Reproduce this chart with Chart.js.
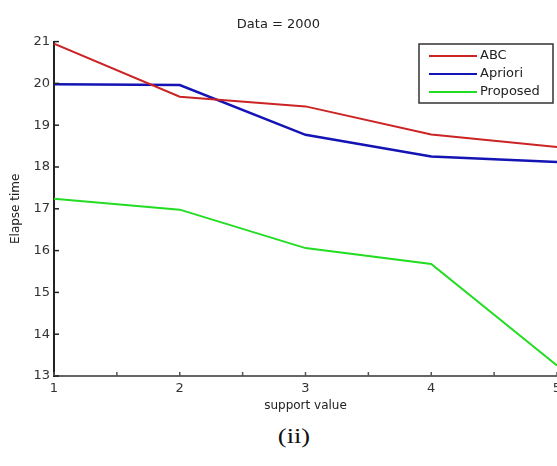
<!DOCTYPE html>
<html>
<head>
<meta charset="utf-8">
<script src="https://cdn.jsdelivr.net/npm/chart.js@4"></script>
<style>
  html, body { margin: 0; padding: 0; background: #fff; overflow: hidden; width: 557px; height: 466px; }
  #wrap { position: absolute; left: 0; top: 0; width: 575px; height: 420px; }
  #caption {
    position: absolute; left: 254px; top: 423px; width: 80px; text-align: center;
    font-family: 'Liberation Serif', 'DejaVu Serif', serif; font-size: 22px; color: #111;
    transform: scaleX(1.2);
  }
</style>
</head>
<body>
<div id="wrap"><canvas id="chart" width="575" height="420"></canvas></div>
<div id="caption">(ii)</div>
<script>
const supportValues = [1, 2, 3, 4, 5];
const abcTimes = [20.95, 19.68, 19.45, 18.78, 18.48];
const aprioriTimes = [19.98, 19.96, 18.77, 18.25, 18.12];
const proposedTimes = [17.24, 16.98, 16.06, 15.68, 13.25];
const yTicks = [13, 14, 15, 16, 17, 18, 19, 20, 21];
const xTicks = [1, 1.5, 2, 2.5, 3, 3.5, 4, 4.5, 5];

const FONT = "'DejaVu Sans', 'Liberation Sans', sans-serif";

const toPoints = vals => vals.map((v, i) => ({ x: supportValues[i], y: v }));

// MATLAB style inward ticks + boxed legend
const matlabBits = {
  id: 'matlabBits',
  afterDraw(chart) {
    const { ctx, scales: { x, y } } = chart;
    const area = chart.chartArea;
    ctx.save();
    ctx.strokeStyle = '#222';
    ctx.lineWidth = 1.5;
    for (const t of yTicks) {
      const py = y.getPixelForValue(t);
      ctx.beginPath();
      ctx.moveTo(area.left, py);
      ctx.lineTo(area.left + 5, py);
      ctx.stroke();
    }
    ctx.strokeStyle = '#555';
    for (const t of xTicks) {
      const px = x.getPixelForValue(t);
      ctx.beginPath();
      ctx.moveTo(px, area.bottom);
      ctx.lineTo(px, area.bottom - 4);
      ctx.stroke();
    }

    // legend
    const lx = 419, ly = 44, lw = 134, lh = 59;
    ctx.fillStyle = '#fff';
    ctx.fillRect(lx, ly, lw, lh);
    ctx.strokeStyle = '#333';
    ctx.lineWidth = 1.5;
    ctx.strokeRect(lx, ly, lw, lh);
    ctx.font = '13px ' + FONT;
    ctx.textBaseline = 'middle';
    ctx.textAlign = 'left';
    chart.data.datasets.forEach((ds, i) => {
      const ry = ly + 12 + i * 18;
      ctx.strokeStyle = ds.borderColor;
      ctx.lineWidth = 2;
      ctx.beginPath();
      ctx.moveTo(lx + 10, ry);
      ctx.lineTo(lx + 58, ry);
      ctx.stroke();
      ctx.fillStyle = '#222';
      ctx.fillText(ds.label, lx + 61, ry);
    });
    ctx.restore();
  }
};

new Chart(document.getElementById('chart'), {
  type: 'line',
  data: {
    datasets: [
      { label: 'ABC', data: toPoints(abcTimes), borderColor: '#cc2424', borderWidth: 2 },
      { label: 'Apriori', data: toPoints(aprioriTimes), borderColor: '#1414b4', borderWidth: 2.5 },
      { label: 'Proposed', data: toPoints(proposedTimes), borderColor: '#22dd22', borderWidth: 2 },
    ],
  },
  options: {
    responsive: false,
    animation: false,
    elements: { point: { radius: 0 }, line: { tension: 0 } },
    layout: { padding: { left: 0, right: 18, top: 0, bottom: 0 } },
    plugins: {
      legend: { display: false },
      tooltip: { enabled: false },
      title: {
        display: true,
        text: 'Data = 2000',
        color: '#222',
        font: { family: FONT, size: 13, weight: 'normal' },
        padding: { top: 17, bottom: 9 },
      },
    },
    scales: {
      x: {
        type: 'linear',
        min: 1,
        max: 5,
        afterFit: s => { s.height = 44; },
        afterBuildTicks: s => { s.ticks = supportValues.map(v => ({ value: v })); },
        grid: { display: false, drawTicks: false },
        border: { display: true, color: '#666', width: 2 },
        ticks: { color: '#333', font: { family: FONT, size: 13 }, padding: 5, maxRotation: 0 },
        title: {
          display: true, text: 'support value', color: '#222',
          font: { family: FONT, size: 12 }, padding: { top: 0, bottom: 7 },
        },
      },
      y: {
        min: 13,
        max: 21,
        afterFit: s => { s.width = 54; },
        afterBuildTicks: s => { s.ticks = yTicks.map(v => ({ value: v })); },
        grid: { display: false, drawTicks: false },
        border: { display: true, color: '#222', width: 2 },
        ticks: { color: '#333', font: { family: FONT, size: 13 }, padding: 4 },
        title: {
          display: true, text: 'Elapse time', color: '#222',
          font: { family: FONT, size: 12 }, padding: { top: 9, bottom: 0 },
        },
      },
    },
  },
  plugins: [matlabBits],
});
</script>
</body>
</html>
